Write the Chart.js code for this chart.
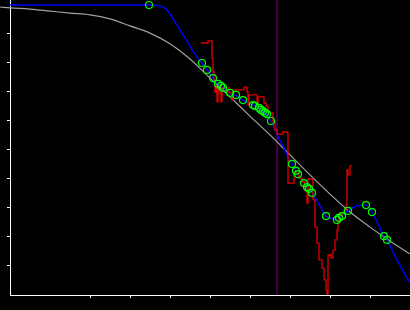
<!DOCTYPE html>
<html lang="en">

<head>
    <meta charset="UTF-8" />
    <title>Curve fit</title>
    <style>
        body {
            margin: 0;
            background-color: #000;
        }

        canvas {
            display: block;
        }
    </style>
    <script src="https://cdn.jsdelivr.net/npm/chart.js"></script>
</head>

<body>
    <canvas id="grafico" width="410" height="310"></canvas>

    <script>
        // smooth reference curve (grey)
        const curvaX = [-0.25, 0, 0.5, 1, 1.5, 2, 2.5, 3, 3.5, 4, 4.5, 5, 5.5, 6, 6.5, 7, 7.5, 8, 8.5, 9, 9.5, 10];
        const curvaY = [0.993, 0.990, 0.986, 0.979, 0.972, 0.966, 0.952, 0.928, 0.903, 0.866, 0.814, 0.748, 0.683, 0.617, 0.552, 0.483, 0.414, 0.348, 0.286, 0.234, 0.186, 0.141];

        // fitted line (blue)
        const ajusteX = [0, 3.475, 3.75, 3.925, 4.075, 4.25, 4.425, 4.575, 4.7, 4.8, 4.925, 5.075, 5.2, 5.275, 5.325, 5.5, 5.675, 5.825, 6.075, 6.125, 6.275, 6.325, 6.4, 6.525, 6.675, 6.825, 6.95, 7.05, 7.15, 7.2, 7.35, 7.425, 7.475, 7.55, 7.75, 7.9, 8.075, 8.175, 8.25, 8.325, 8.45, 8.65, 8.9, 9.05, 9.2, 9.35, 9.425, 9.675, 10];
        const ajusteY = [1.0, 1.0, 0.997, 0.983, 0.952, 0.914, 0.876, 0.841, 0.817, 0.8, 0.776, 0.748, 0.728, 0.721, 0.714, 0.697, 0.686, 0.672, 0.655, 0.652, 0.638, 0.631, 0.624, 0.6, 0.552, 0.514, 0.476, 0.452, 0.428, 0.417, 0.386, 0.372, 0.366, 0.352, 0.307, 0.272, 0.262, 0.259, 0.266, 0.276, 0.290, 0.307, 0.310, 0.286, 0.245, 0.203, 0.190, 0.121, 0.041];

        // measured points (green circles)
        const pontosX = [3.475, 4.8, 4.925, 5.075, 5.2, 5.275, 5.325, 5.5, 5.65, 5.825, 6.075, 6.125, 6.225, 6.275, 6.325, 6.375, 6.425, 6.525, 7.05, 7.15, 7.2, 7.35, 7.425, 7.475, 7.55, 7.9, 8.175, 8.225, 8.3, 8.45, 8.9, 9.05, 9.35, 9.425];
        const pontosY = [1.0, 0.8, 0.776, 0.748, 0.728, 0.721, 0.714, 0.697, 0.690, 0.672, 0.655, 0.652, 0.645, 0.638, 0.634, 0.628, 0.624, 0.6, 0.452, 0.428, 0.417, 0.386, 0.372, 0.366, 0.352, 0.272, 0.259, 0.266, 0.272, 0.290, 0.310, 0.286, 0.203, 0.190];

        // raw signal (red, stepped)
        const brutoX = [4.775, 4.95, 5.05, 5.075, 5.1, 5.125, 5.15, 5.175, 5.2, 5.25, 5.275, 5.3, 5.475, 5.55, 5.575, 5.75, 5.85, 5.925, 5.95, 5.975, 6.15, 6.175, 6.2, 6.325, 6.35, 6.4, 6.45, 6.55, 6.575, 6.625, 6.675, 6.825, 6.95, 7.1, 7.225, 7.3, 7.375, 7.425, 7.45, 7.575, 7.625, 7.675, 7.725, 7.8, 7.85, 7.9, 7.925, 7.95, 8.025, 8.075, 8.125, 8.175, 8.2, 8.225, 8.3, 8.35, 8.4, 8.425, 8.45, 8.5, 8.55];
        const brutoY = [0.869, 0.876, 0.817, 0.769, 0.728, 0.700, 0.721, 0.666, 0.707, 0.693, 0.666, 0.714, 0.697, 0.672, 0.707, 0.707, 0.717, 0.700, 0.655, 0.690, 0.690, 0.659, 0.683, 0.683, 0.662, 0.652, 0.628, 0.628, 0.597, 0.569, 0.555, 0.562, 0.386, 0.421, 0.403, 0.390, 0.362, 0.317, 0.400, 0.328, 0.234, 0.179, 0.121, 0.093, 0.052, 0.017, 0, 0.138, 0.128, 0.155, 0.190, 0.224, 0.252, 0.276, 0.283, 0.293, 0.310, 0.431, 0.414, 0.445, 0.445];

        // vertical marker
        const marcaX = 6.675;
        const limiteY = [0, 1.0172];

        const xy = (xs, ys) => xs.map((x, i) => ({ x: x, y: ys[i] }));

        const corTick = ctx => {
            const v = ctx.tick ? ctx.tick.value : 1;
            return (v <= 0.001 || v > 0.95 && v < 2) ? 'rgba(0,0,0,0)' : '#ffffff';
        };

        new Chart(document.getElementById("grafico"), {
            type: 'line',
            data: {
                datasets: [{
                    data: xy(pontosX, pontosY),
                    showLine: false,
                    pointRadius: 3.5,
                    pointBorderWidth: 1.2,
                    pointBorderColor: '#00ff00',
                    pointBackgroundColor: 'rgba(0,0,0,0)'
                }, {
                    data: xy(brutoX, brutoY),
                    borderColor: '#e00000',
                    borderWidth: 1.3,
                    stepped: true,
                    pointRadius: 0
                }, {
                    data: xy(ajusteX, ajusteY),
                    borderColor: '#0000ff',
                    borderWidth: 1.4,
                    cubicInterpolationMode: 'monotone',
                    pointRadius: 0
                }, {
                    data: xy(curvaX, curvaY),
                    borderColor: '#a0a0a0',
                    borderWidth: 1.2,
                    cubicInterpolationMode: 'monotone',
                    pointRadius: 0,
                    clip: false
                }, {
                    data: limiteY.map(y => ({ x: marcaX, y: y })),
                    borderColor: '#800080',
                    borderWidth: 1,
                    pointRadius: 0,
                    clip: false
                }]
            },
            options: {
                responsive: false,
                animation: false,
                devicePixelRatio: 1,
                layout: { autoPadding: false, padding: { left: 7, right: 0, top: 0, bottom: 12 } },
                plugins: {
                    legend: { display: false },
                    tooltip: { enabled: false }
                },
                scales: {
                    x: {
                        type: 'linear',
                        min: 0,
                        max: 10,
                        ticks: { display: false, stepSize: 1 },
                        grid: { drawOnChartArea: false, tickLength: 3, tickColor: corTick },
                        border: { color: '#ffffff', width: 1 }
                    },
                    y: {
                        type: 'linear',
                        min: limiteY[0],
                        max: limiteY[1],
                        ticks: { display: false, stepSize: 0.1 },
                        grid: { drawOnChartArea: false, tickLength: 3, tickColor: corTick },
                        border: { color: '#ffffff', width: 1 }
                    }
                }
            }
        });
    </script>
</body>

</html>
